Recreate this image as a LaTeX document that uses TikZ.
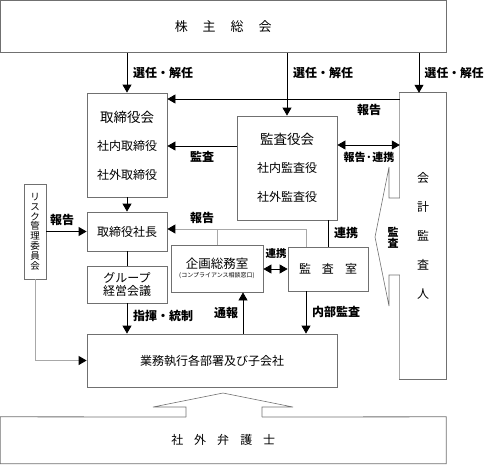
\documentclass[tikz,border=0pt]{standalone}
\usepackage{fontspec}
\setmainfont{Noto Sans CJK JP}
\usetikzlibrary{arrows.meta,calc}
\definecolor{bgray}{HTML}{707070}
\definecolor{lgray}{HTML}{A8A8A8}
\begin{document}
\begin{tikzpicture}[x=1pt,y=-1pt,
  box/.style={draw=bgray, line width=0.8pt, inner sep=0pt, align=center},
  nobox/.style={draw=none, inner sep=0pt, align=center},
  arr/.style={draw=black, line width=0.8pt, -{Triangle[width=9pt,length=8pt]}},
  garr/.style={draw=lgray, line width=1pt, -{Triangle[width=9pt,length=8pt,color=black]}},
  dbl/.style={draw=black, line width=0.8pt, {Triangle[width=9pt,length=8pt]}-{Triangle[width=9pt,length=8pt]}},
  ln/.style={draw=black, line width=0.8pt},
  gln/.style={draw=lgray, line width=1pt},
  bln/.style={draw=bgray, line width=0.8pt},
  lab/.style={font=\bfseries\fontsize{12}{14}\selectfont, inner sep=0pt},
  big/.style={font=\fontsize{13.5}{16}\selectfont},
  mid/.style={font=\fontsize{12}{14}\selectfont},
]
\useasboundingbox (0,0) rectangle (484,464);

% boxes
\node[box, minimum width=445.5pt, minimum height=52pt, font=\fontsize{13}{15}\selectfont] (kabu) at (223.25,26.5)
  {株\hspace{15pt}主\hspace{15pt}総\hspace{15pt}会};
\node[box, minimum width=80pt, minimum height=104pt] (torikai) at (127,145) {};
\node[big] at (127,117) {取締役会};
\node[mid] at (127,146) {社内取締役};
\node[mid] at (127,175) {社外取締役};

\node[box, minimum width=100pt, minimum height=104pt] (kansayaku) at (287,168) {};
\node[big] at (287,139) {監査役会};
\node[mid] at (287,168) {社内監査役};
\node[mid] at (287,197) {社外監査役};

\node[nobox, minimum width=46pt, minimum height=286pt, font=\fontsize{12}{29}\selectfont] (kaikei) at (423,236)
  {会\\計\\監\\査\\人};

\node[box, minimum width=22pt, minimum height=95pt, font=\fontsize{9.5}{9.8}\selectfont] (risk) at (35,231.5)
  {リ\\ス\\ク\\管\\理\\委\\員\\会};

\node[box, minimum width=80pt, minimum height=39pt, mid] (shacho) at (127,231.5) {取締役社長};
\node[box, minimum width=80pt, minimum height=37pt, font=\fontsize{12}{12.5}\selectfont] (group) at (127,284.5) {グループ\\経営会議};

\node[box, minimum width=92pt, minimum height=47pt] (kikaku) at (217,268.5) {};
\node[font=\fontsize{12.5}{14}\selectfont, inner sep=0pt] at (217,264) {企画総務室};
\node[font=\fontsize{6}{7}\selectfont, inner sep=0pt] at (217,276) {(コンプライアンス相談窓口)};

\node[box, minimum width=80pt, minimum height=44pt, mid] (kansa) at (328,269)
  {監\hspace{11pt}査\hspace{11pt}室};

\node[box, minimum width=250pt, minimum height=53pt, mid] (gyomu) at (212,360.5) {業務執行各部署及び子会社};

\node[nobox, minimum width=445.5pt, minimum height=46.5pt, mid] (bengo) at (223.25,440.25)
  {社\hspace{11pt}外\hspace{11pt}弁\hspace{11pt}護\hspace{11pt}士};

% kaikei box with notch
\draw[bln] (kaikei.north west |- 0,198) -- (kaikei.north west) -- (kaikei.north east)
  -- (kaikei.south east) -- (kaikei.south west) -- (kaikei.south west |- 0,275);
\draw[gln] (kaikei.north west |- 0,198) -- (kaikei.north west);
\draw[gln] (kaikei.south west) -- (kaikei.south west |- 0,275);
\draw[line width=0.6pt, draw=bgray] (kaikei.west |- 0,198) -- (389,198) -- (389,167) -- (375,237)
  -- (389,306) -- (389,275) -- (kaikei.west |- 0,275);
\node[lab, font=\bfseries\fontsize{11}{11}\selectfont, align=center] at (393,238) {監\\査};

% bengo box with notch
\draw[bln] (186,417) -- (bengo.north west) -- (bengo.south west) -- (bengo.south east)
  -- (bengo.north east) -- (262,417);
\draw[line width=0.6pt, draw=bgray] (186,417) -- (186,407) -- (153,407) -- (223,393)
  -- (293,407) -- (262,407) -- (262,417);

% selection arrows
\draw[arr] (torikai.north |- kabu.south) -- (torikai.north);
\draw[arr] (kansayaku.north |- kabu.south) -- (kansayaku.north);
\coordinate (kk) at ($(kaikei.north)+(-4,0)$);
\draw[arr] (kk |- kabu.south) -- (kk);
\node[lab, anchor=west] at (133,73) {選任・解任};
\node[lab, anchor=west] at (293,73) {選任・解任};
\node[lab, anchor=west, font=\bfseries\fontsize{11.8}{14}\selectfont] at (424.5,73) {選任・解任};

% kaikei -> torikai report
\draw[arr] (kaikei.west |- 0,99) -- (torikai.east |- 0,99);
\node[lab] at (369,110) {報告};

% kansayaku -> torikai audit
\draw[arr] (kansayaku.west |- 0,146) -- (torikai.east |- 0,146);
\node[lab] at (202,157) {監査};

% kansayaku <-> kaikei
\draw[dbl] (kansayaku.east |- 0,145) -- (kaikei.west |- 0,145);
\node[lab, font=\bfseries\fontsize{11}{13}\selectfont] at (369,157) {報告·連携};

% torikai -> shacho
\draw[arr] (torikai.south) -- (shacho.north);
% risk -> shacho
\draw[arr] (risk.east |- shacho.west) -- (shacho.west);
\node[lab] at (62,220) {報告};
% risk -> gyomu
\draw[gln] (risk.south) -- (risk.south |- gyomu.west);
\draw[garr] (risk.south |- gyomu.west) -- (gyomu.west);

% shacho -- group
\draw[ln] (shacho.south) -- (group.north);
% group -> gyomu
\draw[arr] (group.south) -- (group.south |- gyomu.north);
\node[lab] at (163,316) {指揮・統制};

% report line kikaku/kansa -> shacho
\coordinate (rk) at (306,229);
\draw[gln] (kansa.north -| rk) -- (rk) -- (kikaku.north |- rk);
\draw[gln] (kikaku.north) -- (kikaku.north |- rk);
\draw[garr] (kikaku.north |- rk) -- (shacho.east |- rk);
\node[lab] at (202,218) {報告};

% kansayaku -- kansa
\draw[ln] (kansayaku.south -| kansa.north) -- (kansa.north);
\node[lab] at (346,233) {連携};

% kikaku <-> kansa
\draw[dbl] (kikaku.east |- 0,269) -- (kansa.west |- 0,269);
\node[lab, font=\bfseries\fontsize{10.5}{12}\selectfont] at (276,254) {連携};

% gyomu -> kikaku
\coordinate (tu) at (243,0);
\draw[arr] (tu |- gyomu.north) -- (tu |- kikaku.south);
\node[lab] at (226,313) {通報};

% kansa -> gyomu
\draw[arr] (rk |- kansa.south) -- (rk |- gyomu.north);
\node[lab] at (336,312) {内部監査};
\end{tikzpicture}
\end{document}
